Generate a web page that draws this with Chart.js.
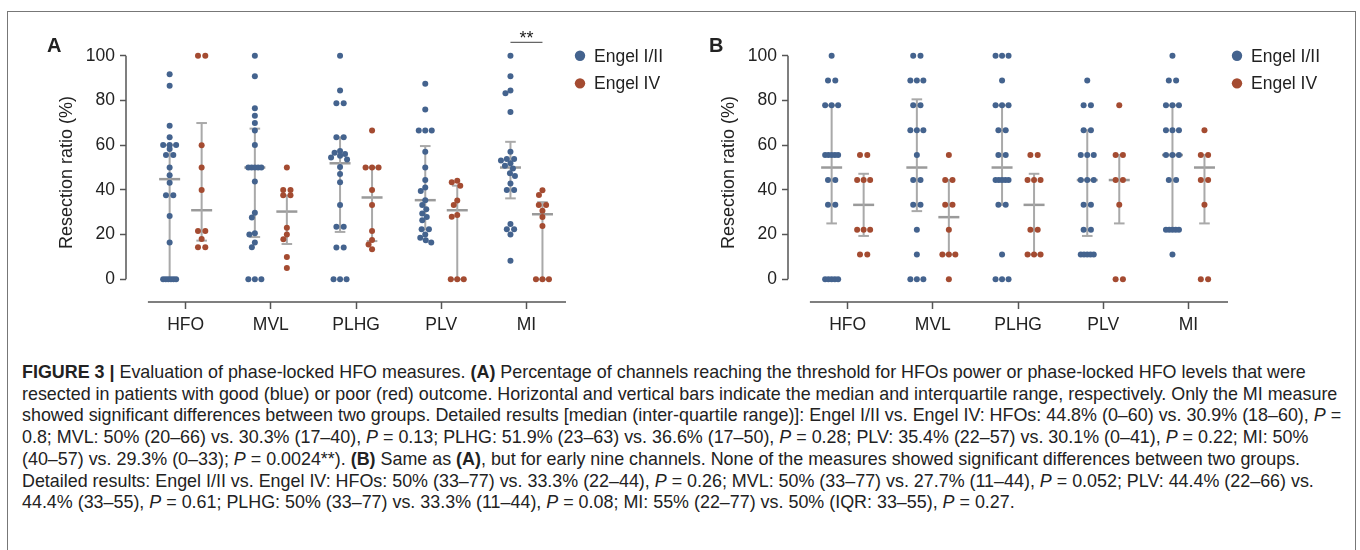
<!DOCTYPE html>
<html>
<head>
<meta charset="utf-8">
<script src="https://cdn.jsdelivr.net/npm/chart.js@4.4.1/dist/chart.umd.min.js"></script>
<style>
  html, body { margin: 0; padding: 0; background: #fff; overflow: hidden; }
  body { width: 1360px; height: 550px; position: relative; font-family: 'Liberation Sans', Arial, sans-serif; }
  #frame { position: absolute; left: 7px; top: 11px; width: 1347px; height: 600px; border: 1px solid #777; }
  #panel-a { position: absolute; left: 0; top: 0; }
  #panel-b { position: absolute; left: 662px; top: 0; }
  #caption { position: absolute; left: 22px; top: 362px; font-size: 17.9px; line-height: 21.7px; color: #222; }
  #caption div { white-space: nowrap; }
</style>
</head>
<body>
<div id="frame"></div>
<canvas id="panel-a" width="680" height="340"></canvas>
<canvas id="panel-b" width="680" height="340"></canvas>
<div id="caption">
  <div><b>FIGURE 3 |</b> Evaluation of phase-locked HFO measures. <b>(A)</b> Percentage of channels reaching the threshold for HFOs power or phase-locked HFO levels that were</div>
  <div>resected in patients with good (blue) or poor (red) outcome. Horizontal and vertical bars indicate the median and interquartile range, respectively. Only the MI measure</div>
  <div>showed significant differences between two groups. Detailed results [median (inter-quartile range)]: Engel I/II vs. Engel IV: HFOs: 44.8% (0–60) vs. 30.9% (18–60), <i>P</i> =</div>
  <div>0.8; MVL: 50% (20–66) vs. 30.3% (17–40), <i>P</i> = 0.13; PLHG: 51.9% (23–63) vs. 36.6% (17–50), <i>P</i> = 0.28; PLV: 35.4% (22–57) vs. 30.1% (0–41), <i>P</i> = 0.22; MI: 50%</div>
  <div>(40–57) vs. 29.3% (0–33); <i>P</i> = 0.0024**). <b>(B)</b> Same as <b>(A)</b>, but for early nine channels. None of the measures showed significant differences between two groups.</div>
  <div>Detailed results: Engel I/II vs. Engel IV: HFOs: 50% (33–77) vs. 33.3% (22–44), <i>P</i> = 0.26; MVL: 50% (33–77) vs. 27.7% (11–44), <i>P</i> = 0.052; PLV: 44.4% (22–66) vs.</div>
  <div>44.4% (33–55), <i>P</i> = 0.61; PLHG: 50% (33–77) vs. 33.3% (11–44), <i>P</i> = 0.08; MI: 55% (22–77) vs. 50% (IQR: 33–55), <i>P</i> = 0.27.</div>
</div>
<script>
  const categories = ['HFO', 'MVL', 'PLHG', 'PLV', 'MI'];
  const seriesLabels = ['Engel I/II', 'Engel IV'];
  const yTicks = [0, 20, 40, 60, 80, 100];

  // panel A - all channels, one list per measure
  const aGood = [
    [91.7, 86.6, 68.7, 63.5, 60.1, 60.1, 60.1, 58.3, 55.6, 55.6, 50.0, 46.6, 43.2, 37.6, 37.6, 28.3, 16.5, 0, 0, 0, 0, 0, 0],
    [100, 90.8, 76.5, 73.2, 69.9, 66.6, 60.1, 50, 50, 50, 50, 50, 43.7, 29.8, 27.6, 20.6, 20.0, 16.5, 14.3, 0, 0, 0],
    [100, 84.5, 78.7, 78.7, 63.5, 63.5, 57.4, 56.6, 56.0, 55.3, 54.5, 53.6, 50.2, 47.1, 43.4, 33.2, 23.5, 23.5, 14.2, 14.2, 0, 0, 0],
    [87.5, 76.0, 66.6, 66.6, 66.6, 57.1, 50.0, 44.4, 41.1, 39.5, 35.4, 33.2, 31.3, 29.4, 27.9, 26.4, 22.4, 22.4, 20.0, 18.6, 17.5, 16.5],
    [100, 90.8, 84.5, 83.2, 74.8, 57.1, 53.8, 53.8, 53.1, 51.9, 50.8, 49.6, 47.4, 46.2, 42.9, 39.9, 39.9, 24.7, 22.4, 22.4, 20.0, 8.3]
  ];
  const aPoor = [
    [100, 100, 60, 50, 40, 21.6, 21.6, 18.0, 14.3, 14.3],
    [50, 40, 40, 37.6, 37.6, 23.1, 20.0, 17.9, 10.0, 5.1],
    [66.6, 50, 50, 50, 40, 33.2, 21.6, 17.6, 15.6, 13.4],
    [44.1, 43.4, 41.9, 35.2, 33.2, 28.8, 28.0, 0, 0, 0],
    [39.8, 37.7, 33.2, 33.2, 30.7, 27.9, 23.8, 0, 0, 0]
  ];
  const aGoodMed = [44.8, 50, 51.9, 35.4, 50];
  const aGoodLo = [0, 18.9, 21.2, 22.3, 36.2];
  const aGoodHi = [60, 67.4, 63.5, 59.6, 61.5];
  const aPoorMed = [30.9, 30.3, 36.6, 30.9, 29.1];
  const aPoorLo = [17.3, 15.8, 17.1, 0, 0];
  const aPoorHi = [69.9, 37.5, 50, 41.9, 34.5];

  // panel B - early nine channels
  const bGood = [
    [100, 88.9, 88.9, 77.8, 77.8, 77.8, 55.6, 55.6, 55.6, 55.6, 55.6, 44.4, 44.4, 33.3, 33.3, 0, 0, 0, 0, 0],
    [100, 100, 88.9, 88.9, 88.9, 77.8, 77.8, 66.7, 66.7, 66.7, 55.6, 44.4, 44.4, 33.3, 33.3, 22.2, 11.1, 0, 0, 0],
    [100, 100, 100, 88.9, 77.8, 77.8, 77.8, 66.7, 66.7, 55.6, 55.6, 44.4, 44.4, 44.4, 44.4, 44.4, 33.3, 33.3, 11.1, 0, 0, 0],
    [88.9, 77.8, 77.8, 66.7, 66.7, 55.6, 55.6, 55.6, 44.4, 44.4, 44.4, 33.3, 33.3, 22.2, 22.2, 11.1, 11.1, 11.1, 11.1, 11.1],
    [100, 88.9, 88.9, 77.8, 77.8, 77.8, 66.7, 66.7, 66.7, 55.6, 55.6, 55.6, 44.4, 44.4, 22.2, 22.2, 22.2, 22.2, 22.2, 11.1]
  ];
  const bPoor = [
    [55.6, 55.6, 44.4, 44.4, 44.4, 22.2, 22.2, 22.2, 11.1, 11.1],
    [55.6, 44.4, 44.4, 33.3, 33.3, 22.2, 11.1, 11.1, 11.1, 0],
    [55.6, 55.6, 44.4, 44.4, 44.4, 22.2, 22.2, 11.1, 11.1, 11.1],
    [77.8, 55.6, 55.6, 44.4, 44.4, 33.3, 0, 0],
    [66.7, 55.6, 55.6, 44.4, 44.4, 33.3, 0, 0]
  ];
  const bGoodMed = [50, 50, 50, 44.4, 55.6];
  const bGoodLo = [25, 30.5, 33.3, 19.4, 22.2];
  const bGoodHi = [77.8, 80.5, 77.8, 66.7, 77.8];
  const bPoorMed = [33.3, 27.8, 33.3, 44.4, 50];
  const bPoorLo = [19.4, 11.1, 11.1, 25, 25];
  const bPoorHi = [47.2, 44.4, 47.2, 55.6, 55.6];

  const BLUE = '#44638e';
  const RED = '#a44b31';
  const BAR_GREY = '#a9a9a9';
  const AXIS = '#555';
  const TEXT = '#222';
  Chart.defaults.font.family = "'Liberation Sans', Arial, sans-serif";

  // layout of one panel canvas
  const W = 680, H = 340, PAD_TOP = 43, Y_AXIS_W = 126, PAD_RIGHT = 114, X_AXIS_H = 38;
  const Y_MIN = -10.15, Y_MAX = 105.7, X_MIN = 0.3, X_MAX = 5.464, X_LINE_FROM = 0.557;
  const PX_Y = (H - PAD_TOP - X_AXIS_H) / (Y_MAX - Y_MIN);
  const PX_X = (W - Y_AXIS_W - PAD_RIGHT) / (X_MAX - X_MIN);
  const SHIFT = 16 / PX_X;          // blue left of tick, red right of tick
  const DOT_GAP = 7.3, ROW_SPAN = 13, MIN_DIST = 5.6;

  // simple beeswarm: equal values spread in a row, others nudged sideways
  function swarm(values, center) {
    const rows = [];
    [...values].sort((a, b) => b - a).forEach(v => {
      const r = rows[rows.length - 1];
      if (r && Math.abs(r.v - v) < 0.3) r.n++;
      else rows.push({ v, n: 1 });
    });
    const placed = [];
    rows.filter(r => r.n > 1).forEach(r => {
      const gap = Math.min(DOT_GAP, ROW_SPAN / (r.n - 1));
      for (let i = 0; i < r.n; i++) placed.push({ dx: (i - (r.n - 1) / 2) * gap, y: r.v });
    });
    rows.filter(r => r.n === 1).forEach(r => {
      let dx = 0;
      for (let k = 0; k < 40; k++) {
        const c = (k % 2 ? -1 : 1) * Math.ceil(k / 2) * 0.5;
        if (placed.every(p => Math.hypot(p.dx - c, (p.y - r.v) * PX_Y) >= MIN_DIST)) { dx = c; break; }
      }
      placed.push({ dx, y: r.v });
    });
    return placed.map(p => ({ x: center + p.dx / PX_X, y: p.y }));
  }

  function whiskers(lo, hi, shift) {
    return lo.flatMap((v, i) => [{ x: i + 1 + shift, y: v }, { x: i + 1 + shift, y: hi[i] }, { x: i + 1 + shift, y: null }]);
  }
  function caps(lo, hi, shift) {
    return lo.flatMap((v, i) => [{ x: i + 1 + shift, y: v }, { x: i + 1 + shift, y: hi[i] }]);
  }
  function medians(med, shift) {
    return med.map((v, i) => ({ x: i + 1 + shift, y: v }));
  }

  function drawPanel(id, letter, good, poor, g, p, legendX, sigIndex) {
    const datasets = [
      { label: seriesLabels[0], data: good.flatMap((vals, i) => swarm(vals, i + 1 - SHIFT)),
        backgroundColor: BLUE, borderWidth: 0, pointRadius: 3, order: 1 },
      { label: seriesLabels[1], data: poor.flatMap((vals, i) => swarm(vals, i + 1 + SHIFT)),
        backgroundColor: RED, borderWidth: 0, pointRadius: 3, order: 1 },
      { type: 'line', data: [...whiskers(g.lo, g.hi, -SHIFT), ...whiskers(p.lo, p.hi, SHIFT)],
        borderColor: BAR_GREY, borderWidth: 2, pointRadius: 0, spanGaps: false, order: 2 },
      { data: [...caps(g.lo, g.hi, -SHIFT), ...caps(p.lo, p.hi, SHIFT)], pointStyle: 'line',
        pointRadius: 5.3, borderColor: BAR_GREY, borderWidth: 2, order: 2 },
      { data: [...medians(g.med, -SHIFT), ...medians(p.med, SHIFT)], pointStyle: 'line',
        pointRadius: 10.5, borderColor: '#9a9a9a', borderWidth: 2.5, order: 2 }
    ];

    const deco = {
      id: 'deco',
      afterDraw(chart) {
        const { ctx, chartArea, scales: { x, y } } = chart;
        ctx.save();
        ctx.strokeStyle = AXIS;
        ctx.lineWidth = 1.5;
        ctx.beginPath();
        ctx.moveTo(chartArea.left, y.getPixelForValue(0));
        ctx.lineTo(chartArea.left, y.getPixelForValue(100));
        ctx.moveTo(x.getPixelForValue(X_LINE_FROM), chartArea.bottom);
        ctx.lineTo(x.getPixelForValue(X_MAX), chartArea.bottom);
        ctx.stroke();

        ctx.fillStyle = TEXT;
        ctx.font = "bold 20px 'Liberation Sans', Arial, sans-serif";
        ctx.textBaseline = 'alphabetic';
        ctx.textAlign = 'left';
        ctx.fillText(letter, 47, 52);

        // legend
        ctx.font = "17.5px 'Liberation Sans', Arial, sans-serif";
        ctx.textBaseline = 'middle';
        datasets.slice(0, 2).forEach((ds, i) => {
          const ly = y.getPixelForValue(100) + i * 27.6;
          ctx.fillStyle = ds.backgroundColor;
          ctx.beginPath();
          ctx.arc(legendX, ly, 5.2, 0, Math.PI * 2);
          ctx.fill();
          ctx.fillStyle = TEXT;
          ctx.fillText(ds.label, legendX + 14, ly + 1);
        });

        if (sigIndex != null) {
          const sy = y.getPixelForValue(106);
          ctx.strokeStyle = '#666';
          ctx.lineWidth = 1.2;
          ctx.beginPath();
          ctx.moveTo(x.getPixelForValue(sigIndex + 1 - SHIFT), sy);
          ctx.lineTo(x.getPixelForValue(sigIndex + 1 + SHIFT), sy);
          ctx.stroke();
          ctx.fillStyle = TEXT;
          ctx.font = "18px 'Liberation Sans', Arial, sans-serif";
          ctx.textAlign = 'center';
          ctx.textBaseline = 'alphabetic';
          ctx.fillText('**', x.getPixelForValue(sigIndex + 1), sy + 2);
        }
        ctx.restore();
      }
    };

    new Chart(document.getElementById(id), {
      type: 'scatter',
      data: { datasets },
      options: {
        responsive: false,
        animation: false,
        devicePixelRatio: 1,
        layout: { padding: { top: PAD_TOP, right: PAD_RIGHT, left: 0, bottom: 0 } },
        plugins: { legend: { display: false }, tooltip: { enabled: false } },
        scales: {
          x: {
            type: 'linear', min: X_MIN, max: X_MAX,
            afterBuildTicks: s => { s.ticks = categories.map((c, i) => ({ value: i + 1 })); },
            afterFit: s => { s.height = X_AXIS_H; },
            ticks: { callback: v => categories[v - 1], color: TEXT, font: { size: 17.5 }, padding: 6, maxRotation: 0 },
            grid: { drawOnChartArea: false, tickLength: 7, tickColor: AXIS, tickWidth: 1.5 },
            border: { display: false }
          },
          y: {
            min: Y_MIN, max: Y_MAX,
            afterBuildTicks: s => { s.ticks = yTicks.map(v => ({ value: v })); },
            afterFit: s => { s.width = Y_AXIS_W; },
            ticks: { color: TEXT, font: { size: 17.5 }, padding: 5 },
            grid: { drawOnChartArea: false, tickLength: 6, tickColor: AXIS, tickWidth: 1.5 },
            border: { display: false },
            title: { display: true, text: 'Resection ratio (%)', color: TEXT, font: { size: 18 }, padding: { top: 56 } }
          }
        }
      },
      plugins: [deco]
    });
  }

  drawPanel('panel-a', 'A', aGood, aPoor,
    { med: aGoodMed, lo: aGoodLo, hi: aGoodHi }, { med: aPoorMed, lo: aPoorLo, hi: aPoorHi }, 580, 4);
  drawPanel('panel-b', 'B', bGood, bPoor,
    { med: bGoodMed, lo: bGoodLo, hi: bGoodHi }, { med: bPoorMed, lo: bPoorLo, hi: bPoorHi }, 575, null);
</script>
</body>
</html>
